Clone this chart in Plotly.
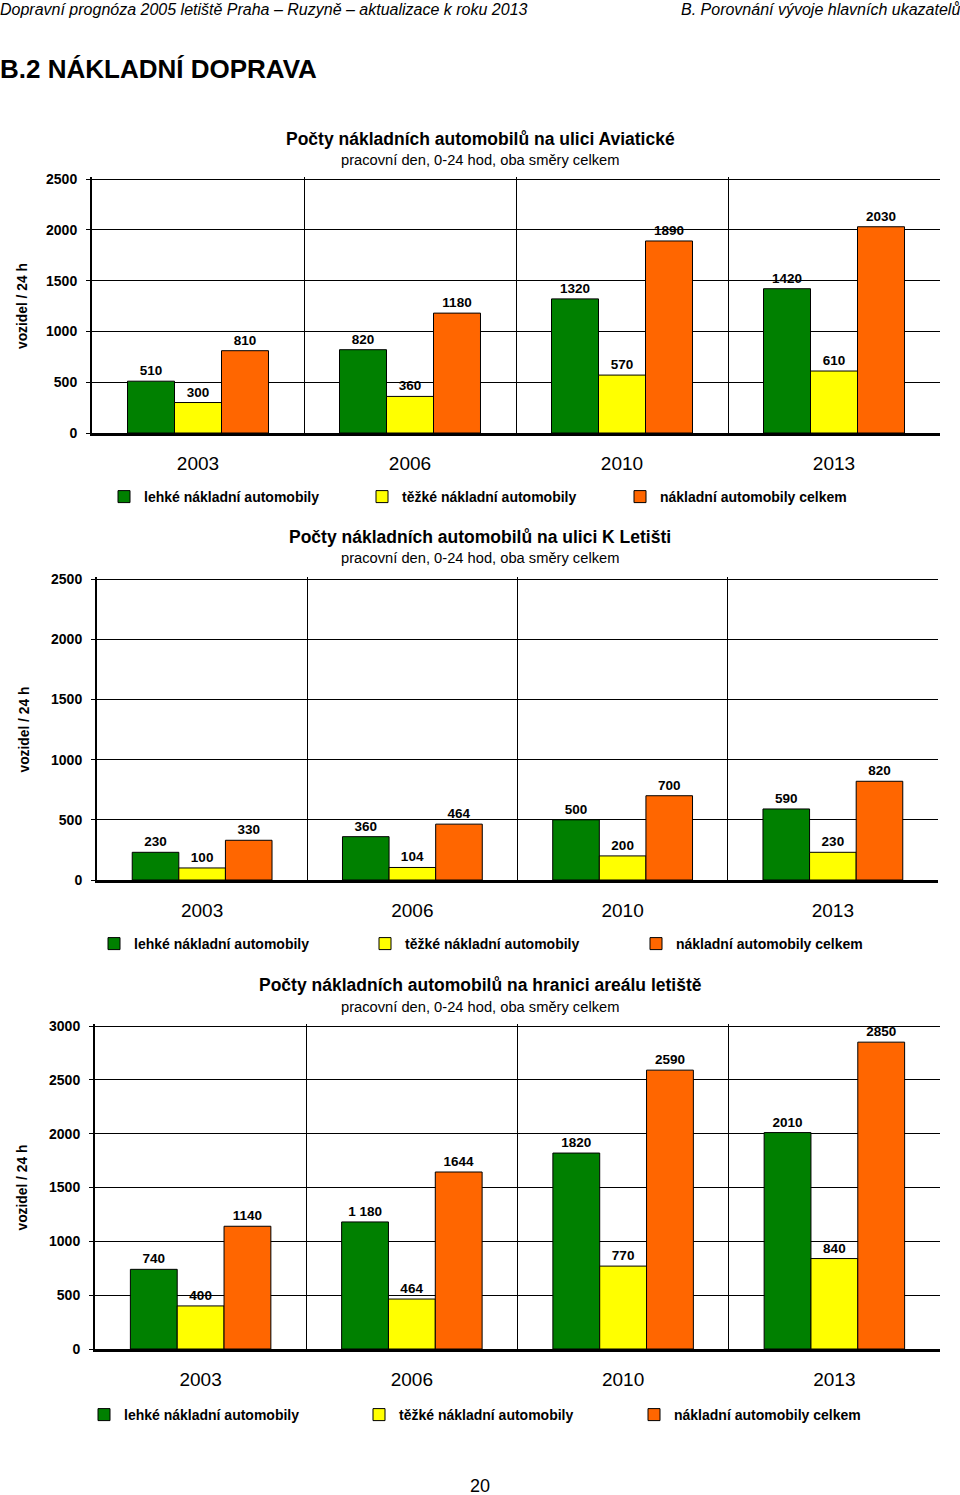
import plotly.graph_objects as go

# ---------------- data ----------------
years = ["2003", "2006", "2010", "2013"]
series_names = ["lehké nákladní automobily", "těžké nákladní automobily", "nákladní automobily celkem"]
series_colors = ["#008000", "#FFFF00", "#FF6600"]

aviaticka_light = [510, 820, 1320, 1420]
aviaticka_heavy = [300, 360, 570, 610]
aviaticka_total = [810, 1180, 1890, 2030]

kletisti_light = [230, 360, 500, 590]
kletisti_heavy = [100, 104, 200, 230]
kletisti_total = [330, 464, 700, 820]

areal_light = [740, 1180, 1820, 2010]
areal_heavy = [400, 464, 770, 840]
areal_total = [1140, 1644, 2590, 2850]
areal_light_labels = ["740", "1 180", "1820", "2010"]

chart_titles = [
    "Počty nákladních automobilů na ulici Aviatické",
    "Počty nákladních automobilů na ulici K Letišti",
    "Počty nákladních automobilů na hranici areálu letiště",
]
subtitle = "pracovní den, 0-24 hod, oba směry celkem"
y_title = "vozidel / 24 h"
y_ticks_2500 = [0, 500, 1000, 1500, 2000, 2500]
y_ticks_3000 = [0, 500, 1000, 1500, 2000, 2500, 3000]

header_left = "Dopravní prognóza 2005 letiště Praha – Ruzyně – aktualizace k roku 2013"
header_right = "B. Porovnání vývoje hlavních ukazatelů"
section_title = "B.2 NÁKLADNÍ DOPRAVA"
page_number = "20"

# ---------------- layout helpers ----------------
W, H = 960, 1495
FONT = "Liberation Sans, Arial, sans-serif"
NARROW = "Liberation Sans Narrow, Arial Narrow, Liberation Sans, Arial, sans-serif"
TOP_PAD = 2  # px of headroom so the top gridline is not clipped


def py(p):
    return 1 - p / H


def px(p):
    return p / W


charts = [
    dict(data=[aviaticka_light, aviaticka_heavy, aviaticka_total],
         labels=[None, None, None], ymax=2500, ticks=y_ticks_2500,
         x0=92, x1=940, ytop=179, ybot=433, title_y=139, sub_y=160,
         leg_y=497, leg_x=104, leg_step=258, ytx=22),
    dict(data=[kletisti_light, kletisti_heavy, kletisti_total],
         labels=[None, None, None], ymax=2500, ticks=y_ticks_2500,
         x0=97, x1=938, ytop=579, ybot=880, title_y=537, sub_y=558,
         leg_y=944, leg_x=94, leg_step=271, ytx=24),
    dict(data=[areal_light, areal_heavy, areal_total],
         labels=[areal_light_labels, None, None], ymax=3000, ticks=y_ticks_3000,
         x0=95, x1=940, ytop=1026, ybot=1349, title_y=985, sub_y=1007,
         leg_y=1415, leg_x=84, leg_step=275, ytx=22),
]

fig = go.Figure()
annotations = []
layout = dict(
    width=W, height=H,
    margin=dict(l=0, r=0, t=0, b=0, pad=0, autoexpand=False),
    paper_bgcolor="white", plot_bgcolor="white",
    barmode="group", bargap=0.335, bargroupgap=0,
    font=dict(family=FONT, color="black"),
)

for k, ch in enumerate(charts):
    sfx = "" if k == 0 else str(k + 1)
    leg = "legend" if k == 0 else f"legend{k + 1}"
    for s in range(3):
        vals = ch["data"][s]
        txt = ch["labels"][s] if ch["labels"][s] is not None else [str(v) for v in vals]
        fig.add_trace(go.Bar(
            x=years, y=vals, name=series_names[s],
            marker=dict(color=series_colors[s], line=dict(color="black", width=1)),
            text=txt, textposition="outside", cliponaxis=False, constraintext="none",
            textfont=dict(family=FONT, size=13.5, color="black", weight="bold"),
            xaxis="x" + sfx, yaxis="y" + sfx, legend=leg,
            showlegend=True,
        ))
    plot_h = ch["ybot"] - ch["ytop"]
    layout["xaxis" + sfx] = dict(
        domain=[px(ch["x0"]), px(ch["x1"])], anchor="y" + sfx,
        type="category", tickson="boundaries", showgrid=True,
        gridcolor="black", gridwidth=1, ticks="", showline=True,
        linecolor="black", linewidth=3, ticklabelstandoff=11,
        tickfont=dict(family=FONT, size=19, color="black"), fixedrange=True,
        automargin=False,
    )
    layout["yaxis" + sfx] = dict(
        domain=[py(ch["ybot"]), py(ch["ytop"] - TOP_PAD)], anchor="x" + sfx,
        range=[0, ch["ymax"] * (plot_h + TOP_PAD) / plot_h],
        tickvals=ch["ticks"], showgrid=True,
        gridcolor="black", gridwidth=1, zeroline=False, showline=True,
        linecolor="black", linewidth=2, ticks="outside", ticklen=4,
        tickcolor="black", ticklabelstandoff=6,
        tickfont=dict(family=FONT, size=14, color="black", weight="bold"),
        fixedrange=True, automargin=False,
    )
    layout[leg] = dict(
        orientation="h", x=px(ch["leg_x"]), y=py(ch["leg_y"]),
        xanchor="left", yanchor="middle", entrywidth=ch["leg_step"] - 45,
        entrywidthmode="pixels", traceorder="normal",
        font=dict(family=FONT, size=14, color="black", weight="bold"),
        bgcolor="rgba(0,0,0,0)", itemclick=False, itemdoubleclick=False,
    )
    annotations.append(dict(
        text=chart_titles[k], x=0.5, y=py(ch["title_y"]), xref="paper", yref="paper",
        xanchor="center", yanchor="middle", showarrow=False,
        font=dict(family=FONT, size=17.5, color="black", weight="bold"),
    ))
    annotations.append(dict(
        text=subtitle, x=0.5, y=py(ch["sub_y"]), xref="paper", yref="paper",
        xanchor="center", yanchor="middle", showarrow=False,
        font=dict(family=FONT, size=14.7, color="black"),
    ))
    annotations.append(dict(
        text=y_title, x=px(ch["ytx"]), y=py((ch["ytop"] + ch["ybot"]) / 2),
        xref="paper", yref="paper", xanchor="center", yanchor="middle",
        textangle=-90, showarrow=False,
        font=dict(family=FONT, size=13.8, color="black", weight="bold"),
    ))

annotations += [
    dict(text=header_left, x=0, y=py(10), xref="paper", yref="paper",
         xanchor="left", yanchor="middle", showarrow=False, xshift=-2,
         font=dict(family=NARROW, size=16, color="black", style="italic")),
    dict(text=header_right, x=1, y=py(10), xref="paper", yref="paper",
         xanchor="right", yanchor="middle", showarrow=False, xshift=2,
         font=dict(family=NARROW, size=16, color="black", style="italic")),
    dict(text=section_title, x=0, y=py(69), xref="paper", yref="paper",
         xanchor="left", yanchor="middle", showarrow=False, xshift=-2,
         font=dict(family=NARROW, size=26, color="black", weight="bold")),
    dict(text=page_number, x=0.5, y=py(1486), xref="paper", yref="paper",
         xanchor="center", yanchor="middle", showarrow=False,
         font=dict(family=NARROW, size=18, color="black")),
]
layout["annotations"] = annotations

fig.update_layout(**layout)

page_css = (
    "var s=document.createElement('style');"
    "s.textContent='html,body{margin:0 !important;padding:0 !important;overflow:hidden !important;}"
    " .plotly-graph-div{position:absolute !important;top:0;left:0;}';"
    "document.head.appendChild(s);"
)
fig.write_html(
    "out.html",
    config={"displayModeBar": False},
    post_script=page_css,
)
